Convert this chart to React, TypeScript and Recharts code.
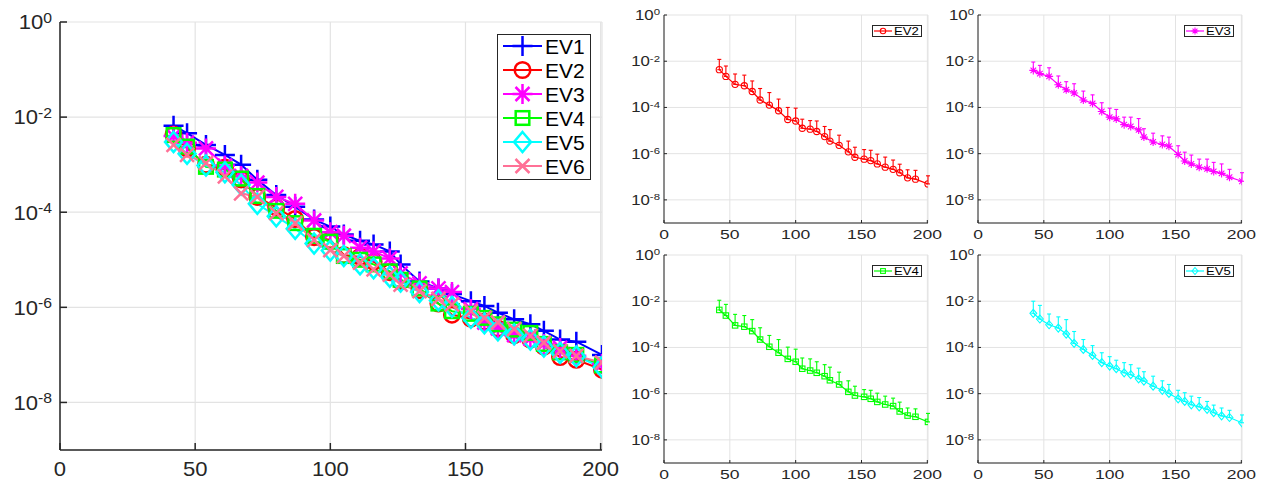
import React from 'react';
import { LineChart, Line, XAxis, YAxis, CartesianGrid, ErrorBar, Legend } from 'recharts';

// sample sizes on the x axis (same for every eigenvalue)
const xValues = [42, 47, 54, 61, 67, 73, 80, 87, 94, 100, 105, 111, 116, 122, 126, 133, 140, 145, 152, 157, 162, 168, 174, 179, 185, 191, 200.5];

// mean error per eigenvalue
const ev1Mean = [6.6e-3, 4.6e-3, 2.6e-3, 1.6e-3, 1.0e-3, 4.8e-4, 2.3e-4, 1.3e-4, 7.0e-5, 5.0e-5, 3.4e-5, 2.5e-5, 2.1e-5, 1.5e-5, 8.0e-6, 3.5e-6, 2.5e-6, 1.9e-6, 1.35e-6, 1.07e-6, 7.7e-7, 5.6e-7, 4.4e-7, 3.2e-7, 2.1e-7, 1.9e-7, 1.0e-7];
const ev2Mean = [4.3e-3, 2.2e-3, 1.0e-3, 8.7e-4, 4.9e-4, 2.1e-4, 1.26e-4, 7.2e-5, 3.0e-5, 2.6e-5, 1.26e-5, 1.15e-5, 9.1e-6, 5.5e-6, 3.5e-6, 2.3e-6, 1.2e-6, 7.0e-7, 5.8e-7, 5.0e-7, 3.6e-7, 2.6e-7, 2.1e-7, 1.5e-7, 9.0e-8, 7.9e-8, 4.9e-8];
const ev3Mean = [4.0e-3, 2.9e-3, 2.2e-3, 9.6e-4, 5.8e-4, 4.2e-4, 2.1e-4, 1.5e-4, 6.7e-5, 3.8e-5, 3.2e-5, 1.8e-5, 1.5e-5, 1.07e-5, 5.2e-6, 3.2e-6, 2.5e-6, 2.1e-6, 9.2e-7, 4.8e-7, 3.6e-7, 2.6e-7, 2.2e-7, 1.7e-7, 1.4e-7, 9.6e-8, 6.4e-8];
const ev4Mean = [4.2e-3, 2.4e-3, 9.0e-4, 7.9e-4, 5.1e-4, 2.2e-4, 1.07e-4, 5.9e-5, 3.2e-5, 2.4e-5, 1.2e-5, 1.0e-5, 8.0e-6, 5.7e-6, 3.8e-6, 2.5e-6, 1.2e-6, 8.3e-7, 7.3e-7, 6.0e-7, 4.4e-7, 3.4e-7, 2.9e-7, 1.7e-7, 1.13e-7, 1.0e-7, 6.0e-8];
const ev5Mean = [3.0e-3, 1.7e-3, 9.6e-4, 6.9e-4, 3.8e-4, 1.5e-4, 8.2e-5, 4.5e-5, 2.2e-5, 1.56e-5, 1.2e-5, 8.0e-6, 6.6e-6, 4.4e-6, 3.5e-6, 2.1e-6, 1.4e-6, 1.02e-6, 6.0e-7, 4.6e-7, 3.3e-7, 2.7e-7, 2.1e-7, 1.5e-7, 1.1e-7, 9.3e-8, 5.5e-8];
const ev6Mean = [2.6e-3, 1.6e-3, 1.08e-3, 5.7e-4, 2.5e-4, 2.1e-4, 9.6e-5, 5.9e-5, 2.6e-5, 1.6e-5, 1.2e-5, 8.7e-6, 6.3e-6, 4.9e-6, 3.0e-6, 2.2e-6, 1.5e-6, 1.15e-6, 8.3e-7, 6.0e-7, 4.8e-7, 3.5e-7, 2.5e-7, 1.8e-7, 1.2e-7, 9.5e-8, 6.9e-8];

// top of the error bars (mean + std) in the small panels
const ev2Upper = [1.2e-2, 6.2e-3, 2.8e-3, 2.5e-3, 1.4e-3, 6.6e-4, 4.4e-4, 2.3e-4, 1.0e-4, 9.3e-5, 3.1e-5, 2.7e-5, 2.6e-5, 1.5e-5, 1.1e-5, 6.3e-6, 3.5e-6, 1.9e-6, 1.5e-6, 1.4e-6, 9.5e-7, 7.1e-7, 5.3e-7, 3.5e-7, 2.0e-7, 1.9e-7, 1.1e-7];
const ev3Upper = [9.2e-3, 6.6e-3, 5.2e-3, 2.3e-3, 1.3e-3, 1.06e-3, 5.1e-4, 3.5e-4, 1.6e-4, 9.3e-5, 8.2e-5, 3.8e-5, 3.8e-5, 3.3e-5, 1.2e-5, 7.7e-6, 5.9e-6, 5.2e-6, 2.2e-6, 1.16e-6, 8.7e-7, 5.8e-7, 5.8e-7, 4.2e-7, 3.6e-7, 2.1e-7, 1.5e-7];
const ev4Upper = [1.1e-2, 7.3e-3, 2.7e-3, 2.4e-3, 1.6e-3, 7.1e-4, 3.3e-4, 2.2e-4, 1.03e-4, 8.4e-5, 3.5e-5, 3.2e-5, 2.4e-5, 1.8e-5, 1.4e-5, 8.5e-6, 3.6e-6, 2.1e-6, 1.5e-6, 1.4e-6, 1.05e-6, 7.8e-7, 6.4e-7, 4.3e-7, 2.4e-7, 2.2e-7, 1.4e-7];
const ev5Upper = [1.0e-2, 6.6e-3, 2.8e-3, 2.1e-3, 1.6e-3, 4.9e-4, 2.2e-4, 1.2e-4, 5.9e-5, 4.0e-5, 2.8e-5, 2.2e-5, 1.8e-5, 1.27e-5, 8.9e-6, 5.7e-6, 3.6e-6, 2.5e-6, 1.4e-6, 1.1e-6, 7.8e-7, 6.8e-7, 4.6e-7, 3.2e-7, 2.4e-7, 1.9e-7, 1.2e-7];

const xTicks = [0, 50, 100, 150, 200];
const yTicks = [1e-8, 1e-6, 1e-4, 1e-2, 1];
const X_DOMAIN: [number, number] = [0, 200.5];
const Y_DOMAIN: [number, number] = [1e-9, 1];

const FONT = '"Liberation Sans", Arial, Helvetica, sans-serif';
const AXIS = '#262626';
const GRID = '#e3e3e3';

const SERIES = [
  { key: 'ev1', name: 'EV1', color: '#0000ff', shape: 'plus', mean: ev1Mean },
  { key: 'ev2', name: 'EV2', color: '#ff0000', shape: 'circle', mean: ev2Mean },
  { key: 'ev3', name: 'EV3', color: '#ff00ff', shape: 'star', mean: ev3Mean },
  { key: 'ev4', name: 'EV4', color: '#00ff00', shape: 'square', mean: ev4Mean },
  { key: 'ev5', name: 'EV5', color: '#00ffff', shape: 'diamond', mean: ev5Mean },
  { key: 'ev6', name: 'EV6', color: '#ff7096', shape: 'cross', mean: ev6Mean },
];

const mainData = xValues.map((x, i) => {
  const row: any = { x };
  SERIES.forEach((s) => { row[s.key] = s.mean[i]; });
  return row;
});

const PANELS = [
  { name: 'EV2', color: '#ff0000', shape: 'circle', mean: ev2Mean, upper: ev2Upper, left: 620, top: 0, width: 345, height: 245, yw: 44, mr: 37, xh: 22, lx: 252 },
  { name: 'EV3', color: '#ff00ff', shape: 'star', mean: ev3Mean, upper: ev3Upper, left: 940, top: 0, width: 323, height: 245, yw: 38, mr: 21, xh: 22, lx: 244 },
  { name: 'EV4', color: '#00ff00', shape: 'square', mean: ev4Mean, upper: ev4Upper, left: 620, top: 240, width: 345, height: 244, yw: 44, mr: 37, xh: 21, lx: 252 },
  { name: 'EV5', color: '#00ffff', shape: 'diamond', mean: ev5Mean, upper: ev5Upper, left: 940, top: 240, width: 323, height: 244, yw: 38, mr: 21, xh: 21, lx: 244 },
];

function Marker({ cx, cy, shape, size, color, sw }: any) {
  if (cx == null || cy == null) return null;
  const r = size / 2;
  const st = { stroke: color, strokeWidth: sw, fill: 'none' };
  if (shape === 'plus') return <path d={`M${cx - r},${cy}H${cx + r}M${cx},${cy - r}V${cy + r}`} {...st} />;
  if (shape === 'circle') return <circle cx={cx} cy={cy} r={r * 0.78} {...st} />;
  if (shape === 'star') {
    const d = r * 0.7;
    return <path d={`M${cx - r},${cy}H${cx + r}M${cx},${cy - r}V${cy + r}M${cx - d},${cy - d}L${cx + d},${cy + d}M${cx - d},${cy + d}L${cx + d},${cy - d}`} {...st} />;
  }
  if (shape === 'square') {
    const h = r * 0.68;
    return <rect x={cx - h} y={cy - h} width={2 * h} height={2 * h} {...st} />;
  }
  if (shape === 'diamond') {
    const w = r * 0.85;
    return <path d={`M${cx},${cy - r}L${cx + w},${cy}L${cx},${cy + r}L${cx - w},${cy}Z`} {...st} />;
  }
  const d = r * 0.7;
  return <path d={`M${cx - d},${cy - d}L${cx + d},${cy + d}M${cx - d},${cy + d}L${cx + d},${cy - d}`} {...st} />;
}

function PowerTick({ x, y, payload, fontSize, supSize, gap, sx }: any) {
  const exp = Math.round(Math.log10(payload.value));
  return (
    <g transform={`translate(${x - gap},${y}) scale(${sx},1)`}>
      <text x={0} y={fontSize * 0.35} textAnchor="end" fill={AXIS} fontSize={fontSize} fontFamily={FONT}>
        10<tspan fontSize={supSize} dy={-fontSize * 0.32}>{exp}</tspan>
      </text>
    </g>
  );
}

function NumTick({ x, y, payload, fontSize, dy, sx }: any) {
  return (
    <g transform={`translate(${x},${y + dy}) scale(${sx},1)`}>
      <text x={0} y={0} textAnchor="middle" fill={AXIS} fontSize={fontSize} fontFamily={FONT}>
        {payload.value}
      </text>
    </g>
  );
}

function MainLegend() {
  return (
    <svg width={94} height={146} style={{ display: 'block' }}>
      <rect x={0.5} y={0.5} width={93} height={145} fill="#fff" stroke={AXIS} strokeWidth={1} />
      {SERIES.map((s, i) => {
        const cy = 12 + i * 24;
        return (
          <g key={s.key}>
            <line x1={6} x2={45} y1={cy} y2={cy} stroke={s.color} strokeWidth={2} />
            <Marker cx={25.5} cy={cy} shape={s.shape} size={20} color={s.color} sw={2.5} />
            <text x={48} y={cy + 7.5} fontSize={21} fontFamily={FONT} fill="#000">{s.name}</text>
          </g>
        );
      })}
    </svg>
  );
}

function SmallLegend({ p }: any) {
  return (
    <svg width={50} height={12} style={{ display: 'block' }}>
      <rect x={0.5} y={0.5} width={49} height={11} fill="#fff" stroke={AXIS} strokeWidth={1} />
      <line x1={2} x2={20} y1={6} y2={6} stroke={p.color} strokeWidth={1.2} />
      <Marker cx={11} cy={6} shape={p.shape} size={7} color={p.color} sw={1.1} />
      <g transform="translate(22,9.8) scale(1.25,1)">
        <text x={0} y={0} fontSize={10.5} fontFamily={FONT} fill="#000">{p.name}</text>
      </g>
    </svg>
  );
}

function MainChart() {
  return (
    <LineChart width={620} height={484} data={mainData} margin={{ top: 22, right: 18, left: 0, bottom: 0 }}>
      <CartesianGrid stroke={GRID} strokeWidth={1.2} />
      <XAxis dataKey="x" type="number" domain={X_DOMAIN} ticks={xTicks} allowDataOverflow height={34}
        stroke={AXIS} strokeWidth={1.5} tickSize={-7} tickMargin={7}
        tick={(t: any) => <NumTick {...t} fontSize={21} dy={26} sx={1.05} />} />
      <XAxis xAxisId="top" orientation="top" dataKey="x" type="number" domain={X_DOMAIN} ticks={xTicks} allowDataOverflow
        height={0} stroke={AXIS} strokeWidth={1.5} tickSize={-7} tick={false} />
      <YAxis scale="log" type="number" domain={Y_DOMAIN} ticks={yTicks} allowDataOverflow width={60}
        stroke={AXIS} strokeWidth={1.5} tickSize={-7} tickMargin={7}
        tick={(t: any) => <PowerTick {...t} fontSize={21} supSize={15} gap={8} sx={1.05} />} />
      <YAxis yAxisId="right" orientation="right" scale="log" type="number" domain={Y_DOMAIN} ticks={yTicks} allowDataOverflow
        width={0} stroke={AXIS} strokeWidth={1.5} tickSize={-7} tick={false} />
      {SERIES.map((s) => (
        <Line key={s.key} dataKey={s.key} name={s.name} type="linear" stroke={s.color} strokeWidth={2}
          isAnimationActive={false} activeDot={false}
          dot={(d: any) => <Marker key={`${s.key}-${d.index}`} cx={d.cx} cy={d.cy} shape={s.shape} size={20} color={s.color} sw={2.5} />} />
      ))}
      <Legend layout="vertical" align="center" verticalAlign="middle"
        wrapperStyle={{ left: 497, top: 34, width: 94, height: 146 }} content={() => <MainLegend />} />
    </LineChart>
  );
}

function SmallChart({ p }: any) {
  const data = xValues.map((x, i) => ({ x, y: p.mean[i], err: [0, p.upper[i] - p.mean[i]] }));
  return (
    <LineChart width={p.width} height={p.height} data={data} margin={{ top: 15, right: p.mr, left: 0, bottom: 0 }}>
      <CartesianGrid stroke={GRID} />
      <XAxis dataKey="x" type="number" domain={X_DOMAIN} ticks={xTicks} allowDataOverflow height={p.xh}
        stroke={AXIS} tickSize={-3} tickMargin={3}
        tick={(t: any) => <NumTick {...t} fontSize={13.5} dy={16} sx={1.3} />} />
      <XAxis xAxisId="top" orientation="top" dataKey="x" type="number" domain={X_DOMAIN} ticks={xTicks} allowDataOverflow
        height={0} stroke={AXIS} tickSize={-3} tick={false} />
      <YAxis scale="log" type="number" domain={Y_DOMAIN} ticks={yTicks} allowDataOverflow width={p.yw}
        stroke={AXIS} tickSize={-3} tickMargin={3}
        tick={(t: any) => <PowerTick {...t} fontSize={14} supSize={9.5} gap={4} sx={1.2} />} />
      <YAxis yAxisId="right" orientation="right" scale="log" type="number" domain={Y_DOMAIN} ticks={yTicks} allowDataOverflow
        width={0} stroke={AXIS} tickSize={-3} tick={false} />
      <Line dataKey="y" name={p.name} type="linear" stroke={p.color} strokeWidth={1.2}
        isAnimationActive={false} activeDot={false}
        dot={(d: any) => <Marker key={`${p.name}-${d.index}`} cx={d.cx} cy={d.cy} shape={p.shape} size={8} color={p.color} sw={1.1} />}>
        <ErrorBar dataKey="err" direction="y" width={2} stroke={p.color} strokeWidth={1.1} isAnimationActive={false} />
      </Line>
      <Legend layout="vertical" align="center" verticalAlign="middle"
        wrapperStyle={{ left: p.lx, top: 25, width: 50, height: 12 }} content={() => <SmallLegend p={p} />} />
    </LineChart>
  );
}

export default function App() {
  return (
    <div style={{ position: 'absolute', left: 0, top: 0, width: 1263, height: 484, background: '#fff', fontFamily: FONT }}>
      <div style={{ position: 'absolute', left: 0, top: 0 }}>
        <MainChart />
      </div>
      {PANELS.map((p) => (
        <div key={p.name} style={{ position: 'absolute', left: p.left, top: p.top }}>
          <SmallChart p={p} />
        </div>
      ))}
    </div>
  );
}
